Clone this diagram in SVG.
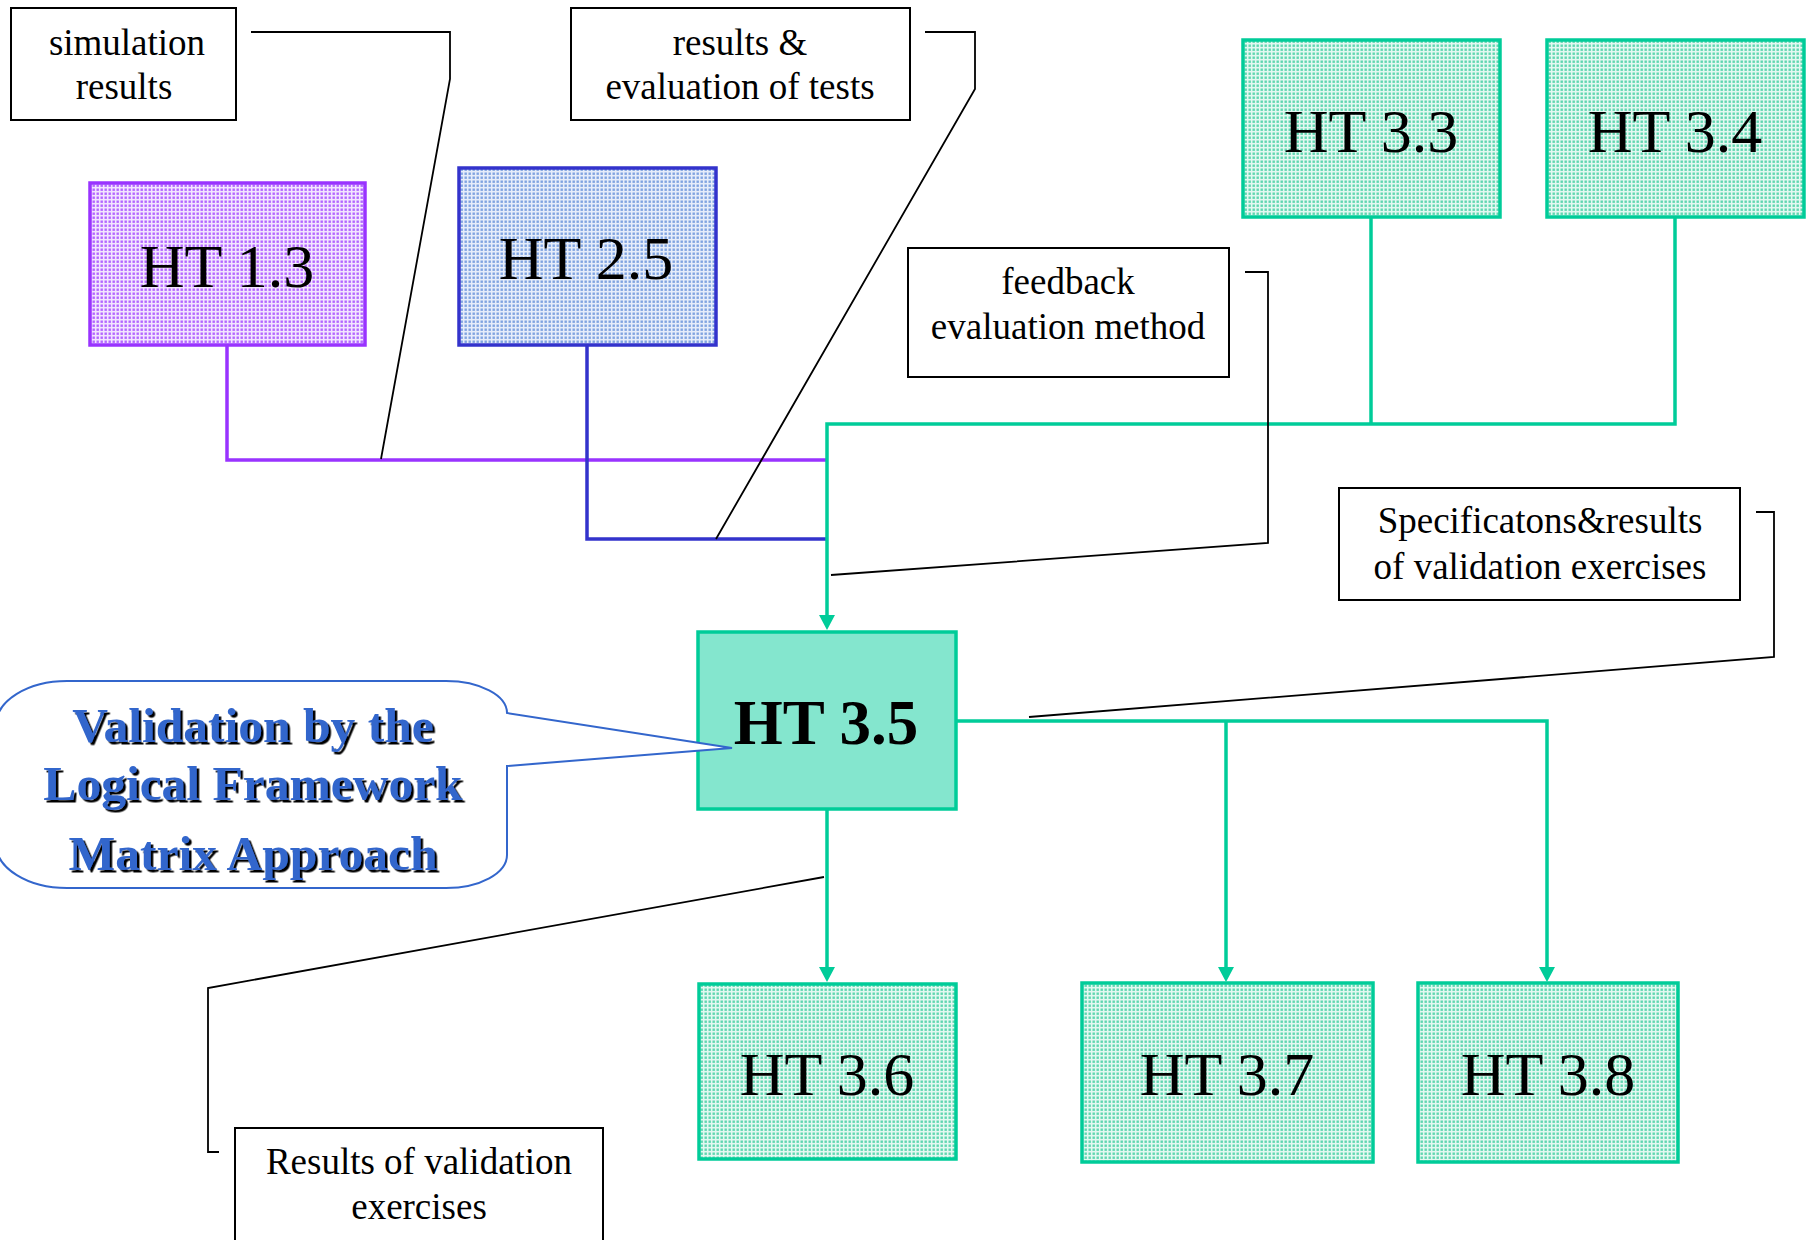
<svg xmlns="http://www.w3.org/2000/svg" width="1808" height="1240" viewBox="0 0 1808 1240">
  <defs>
    <style>
      .lbl { fill: #fff; stroke: #000; stroke-width: 2; }
      .lbl-t { font-family: "Liberation Serif", "Times New Roman", serif; font-size: 37px; fill: #000; text-anchor: middle; }
      .ht-t { font-family: "Liberation Serif", "Times New Roman", serif; font-size: 62px; fill: #000; text-anchor: middle; }
      .ht-b { font-weight: bold; font-size: 63px; }
      .leader { fill: none; stroke: #000; stroke-width: 1.8; stroke-linejoin: miter; }
      .c-purple { fill: none; stroke: #9933FF; stroke-width: 3.5; }
      .c-blue { fill: none; stroke: #3333CC; stroke-width: 3.5; }
      .c-green { fill: none; stroke: #00CC99; stroke-width: 3.5; }
      .bubble { fill: #fff; stroke: #3366CC; stroke-width: 2; }
      .bubble-t { font-family: "Liberation Serif", "Times New Roman", serif; font-size: 49.5px; font-weight: bold; fill: #3366CC; text-anchor: middle; }
    </style>
    <pattern id="dotPurple" width="4" height="4" patternUnits="userSpaceOnUse">
      <rect width="4" height="4" fill="#F3E6FF"/>
      <rect x="0.5" y="0.5" width="2.4" height="2.4" fill="#B366FF"/>
    </pattern>
    <pattern id="dotBlue" width="4" height="4" patternUnits="userSpaceOnUse">
      <rect width="4" height="4" fill="#E6EDFA"/>
      <rect x="0.5" y="0.5" width="2.4" height="2.4" fill="#7FA3E0"/>
    </pattern>
    <pattern id="dotGreen" width="4" height="4" patternUnits="userSpaceOnUse">
      <rect width="4" height="4" fill="#E3F8F1"/>
      <rect x="0.5" y="0.5" width="2.4" height="2.4" fill="#5FD6B0"/>
    </pattern>
    <marker id="arrowGreen" markerUnits="userSpaceOnUse" markerWidth="16" markerHeight="18" viewBox="0 -9 16 18" refX="0" refY="0" orient="auto">
      <path d="M0,-8 L15,0 L0,8 Z" fill="#00CC99"/>
    </marker>
    <filter id="shadow" x="-5%" y="-5%" width="110%" height="120%">
      <feDropShadow dx="2.5" dy="2.5" stdDeviation="0" flood-color="#000" flood-opacity="1"/>
    </filter>
  </defs>

  <rect width="1808" height="1240" fill="#fff"/>

  <!-- connectors -->
  <g id="connectors">
    <!-- inputs into HT 3.5 -->
    <path class="c-purple" d="M227,345 V460 H827"/>
    <path class="c-blue" d="M587,345 V539 H827"/>
    <path class="c-green" d="M1371,217 V424"/>
    <path class="c-green" d="M1675,217 V424 H827 V615" marker-end="url(#arrowGreen)"/>
    <!-- outputs from HT 3.5 -->
    <path class="c-green" d="M827,809 V967" marker-end="url(#arrowGreen)"/>
    <path class="c-green" d="M956,721 H1547 V967" marker-end="url(#arrowGreen)"/>
    <path class="c-green" d="M1226,721 V967" marker-end="url(#arrowGreen)"/>
    <!-- label leaders -->
    <path class="leader" d="M251,32 H450 V79 L381,459"/>
    <path class="leader" d="M925,32 H975 V89 L716,539"/>
    <path class="leader" d="M1245,272 H1268 V543 L831,575"/>
    <path class="leader" d="M1756,512 H1774 V657 L1029,717"/>
    <path class="leader" d="M219,1152 H208 V988 L824,877"/>
  </g>

  <!-- work package nodes -->
  <g id="ht13">
    <rect x="90" y="183" width="275" height="162" fill="url(#dotPurple)" stroke="#9933FF" stroke-width="3.5"/>
    <text class="ht-t" x="227" y="287">HT 1.3</text>
  </g>
  <g id="ht25">
    <rect x="459" y="168" width="257" height="177" fill="url(#dotBlue)" stroke="#3333CC" stroke-width="3.5"/>
    <text class="ht-t" x="586" y="279">HT 2.5</text>
  </g>
  <g id="ht33">
    <rect x="1243" y="40" width="257" height="177" fill="url(#dotGreen)" stroke="#00CC99" stroke-width="3.5"/>
    <text class="ht-t" x="1371" y="152">HT 3.3</text>
  </g>
  <g id="ht34">
    <rect x="1547" y="40" width="257" height="177" fill="url(#dotGreen)" stroke="#00CC99" stroke-width="3.5"/>
    <text class="ht-t" x="1675" y="152">HT 3.4</text>
  </g>
  <g id="ht35">
    <rect x="698" y="632" width="258" height="177" fill="#84E6CE" stroke="#00CC99" stroke-width="3.5"/>
    <text class="ht-t ht-b" x="826" y="744">HT 3.5</text>
  </g>
  <g id="ht36">
    <rect x="699" y="984" width="257" height="175" fill="url(#dotGreen)" stroke="#00CC99" stroke-width="3.5"/>
    <text class="ht-t" x="827" y="1095">HT 3.6</text>
  </g>
  <g id="ht37">
    <rect x="1082" y="983" width="291" height="179" fill="url(#dotGreen)" stroke="#00CC99" stroke-width="3.5"/>
    <text class="ht-t" x="1227" y="1095">HT 3.7</text>
  </g>
  <g id="ht38">
    <rect x="1418" y="983" width="260" height="179" fill="url(#dotGreen)" stroke="#00CC99" stroke-width="3.5"/>
    <text class="ht-t" x="1548" y="1095">HT 3.8</text>
  </g>

  <!-- text labels -->
  <g id="lbl-simulation">
    <rect class="lbl" x="11" y="8" width="225" height="112"/>
    <text class="lbl-t" x="127" y="55">simulation</text>
    <text class="lbl-t" x="124" y="99">results</text>
  </g>
  <g id="lbl-tests">
    <rect class="lbl" x="571" y="8" width="339" height="112"/>
    <text class="lbl-t" x="740" y="55">results &amp;</text>
    <text class="lbl-t" x="740" y="99">evaluation of tests</text>
  </g>
  <g id="lbl-feedback">
    <rect class="lbl" x="908" y="248" width="321" height="129"/>
    <text class="lbl-t" x="1068" y="294">feedback</text>
    <text class="lbl-t" x="1068" y="339">evaluation method</text>
  </g>
  <g id="lbl-specs">
    <rect class="lbl" x="1339" y="488" width="401" height="112"/>
    <text class="lbl-t" x="1540" y="533">Specificatons&amp;results</text>
    <text class="lbl-t" x="1540" y="579">of validation exercises</text>
  </g>
  <g id="lbl-results">
    <rect class="lbl" x="235" y="1128" width="368" height="130"/>
    <text class="lbl-t" x="419" y="1174">Results of validation</text>
    <text class="lbl-t" x="419" y="1219">exercises</text>
  </g>

  <!-- method callout -->
  <g id="callout-lfm">
    <path class="bubble" d="M67,681 H446 A61,32 0 0 1 507,713 L732,748 L507,766 V855 A61,33 0 0 1 446,888 H67 A71,44 0 0 1 -4,844 V725 A71,44 0 0 1 67,681 Z"/>
    <g filter="url(#shadow)">
      <text class="bubble-t" x="253" y="742">Validation by the</text>
      <text class="bubble-t" x="253" y="800">Logical Framework</text>
      <text class="bubble-t" x="253" y="870">Matrix Approach</text>
    </g>
  </g>
</svg>
